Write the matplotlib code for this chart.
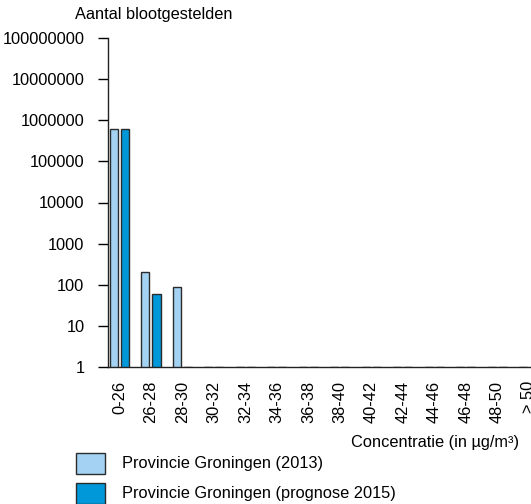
import numpy as np
import matplotlib
matplotlib.use('Agg')
import matplotlib.pyplot as plt
from matplotlib.patches import Rectangle

plt.rcParams['font.family'] = ['Liberation Sans', 'DejaVu Sans']

# --- Data ---
klassen = ['0-26', '26-28', '28-30', '30-32', '32-34', '34-36', '36-38',
           '38-40', '40-42', '42-44', '44-46', '46-48', '48-50', '> 50']
groningen_2013 = [600000, 205, 88, 1, 1, 1, 1, 1, 1, 1, 1, 1, 1, 1]
groningen_2015 = [600000, 60, 1, 1, 1, 1, 1, 1, 1, 1, 1, 1, 1, 1]
y_ticks = [1, 10, 100, 1000, 10000, 100000, 1000000, 10000000, 100000000]

kleur_2013 = '#a4d2f3'
kleur_2015 = '#0098d8'
rand = '#2b2b2b'
fs = 11.8

W, H = 531, 504
fig = plt.figure(figsize=(W / 100, H / 100), dpi=100)
ax = fig.add_axes([108 / W, (H - 367) / H, (532 - 108) / W, 329 / H])

x = np.arange(len(klassen))
bw = 0.255
ax.bar(x - 0.175, groningen_2013, width=bw, color=kleur_2013, edgecolor=rand, linewidth=1.0)
ax.bar(x + 0.175, groningen_2015, width=bw, color=kleur_2015, edgecolor=rand, linewidth=1.0)

ax.set_yscale('log')
ax.set_ylim(1, 1e8)
ax.set_xlim(-0.365, 13.1)
ax.set_yticks(y_ticks)
ax.set_yticklabels([str(v) for v in y_ticks])
ax.minorticks_off()
ax.set_xticks(x)
ax.set_xticklabels(klassen, rotation=90)
ax.tick_params(axis='x', length=0, pad=10, labelsize=fs)
ax.tick_params(axis='y', length=7, width=1, direction='out', pad=10, labelsize=fs)

for s in ['top', 'right']:
    ax.spines[s].set_visible(False)
for s in ['left', 'bottom']:
    ax.spines[s].set_linewidth(1.0)
    ax.spines[s].set_color('#222222')

fig.text(75 / W, 1 - 14 / H, 'Aantal blootgestelden', fontsize=fs, va='center', ha='left')
fig.text(519 / W, 1 - 442 / H, 'Concentratie (in µg/m³)', fontsize=fs, va='center', ha='right')

# legenda
for i, (kleur, tekst) in enumerate([(kleur_2013, 'Provincie Groningen (2013)'),
                                    (kleur_2015, 'Provincie Groningen (prognose 2015)')]):
    y0 = 453 + i * 30
    fig.add_artist(Rectangle((76 / W, 1 - (y0 + 21) / H), 29 / W, 21 / H,
                             transform=fig.transFigure, facecolor=kleur,
                             edgecolor=rand, linewidth=1.0))
    fig.text(122 / W, 1 - (y0 + 10.5) / H, tekst, fontsize=fs, va='center', ha='left')

fig.savefig('out.png', dpi=100)
